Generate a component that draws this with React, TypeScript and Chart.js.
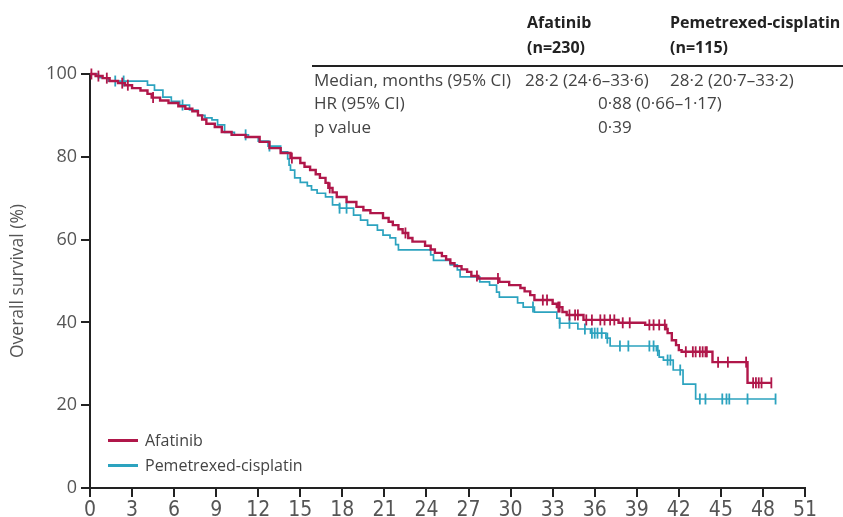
import React, { useEffect, useRef } from "react";
import { Chart, registerables } from "chart.js";

Chart.register(...registerables);

// Kaplan–Meier overall survival, months vs % surviving
const afatinibEventMonths = [
  0.4, 0.9, 1.4, 2.0, 2.5, 3.0, 3.6, 4.1, 4.4, 5.0, 5.6, 6.3, 6.8, 7.3, 7.7, 8.0, 8.3, 8.9, 9.4,
  10.1, 11.1, 12.1, 12.8, 13.6, 14.3, 15.0, 15.3, 15.7, 16.1, 16.4, 16.8, 17.0, 17.3, 17.6, 18.3,
  19.0, 19.5, 20.0, 20.9, 21.3, 21.6, 22.0, 22.3, 22.7, 23.0, 23.9, 24.3, 24.6, 25.1, 25.4, 25.7,
  26.0, 26.5, 26.9, 27.2, 27.7, 29.2, 29.9, 30.7, 31.0, 31.4, 31.7, 33.0, 33.3, 33.7, 34.0, 35.2,
  37.7, 39.6, 41.1, 41.2, 41.5, 41.8, 42.0, 42.2, 44.4, 46.9,
];
const afatinibSurvival = [
  99.5, 99.0, 98.3, 97.8, 97.3, 96.6, 96.0, 95.2, 94.3, 93.6, 93.0, 92.2, 91.6, 91.0, 90.0, 89.0, 88.0, 87.2, 86.0,
  85.3, 84.8, 83.6, 82.1, 80.9, 79.7, 78.5, 77.6, 76.8, 75.8, 74.9, 73.7, 72.5, 71.4, 70.3, 69.1,
  67.9, 67.1, 66.4, 65.2, 64.3, 63.5, 62.5, 61.6, 60.4, 59.5, 58.5, 57.6, 56.8, 56.0, 55.2, 54.3,
  53.6, 52.8, 52.2, 51.2, 50.6, 49.8, 49.0, 48.3, 47.5, 46.6, 45.4, 44.5, 43.7, 42.5, 41.8, 40.6,
  39.9, 39.4, 38.4, 37.4, 35.7, 34.5, 33.3, 32.9, 30.4, 25.4,
];
const afatinibCensorMonths = [
  0.1, 0.6, 1.2, 2.3, 2.7, 4.5, 14.4, 17.1, 22.5, 27.6, 29.1, 32.3, 32.6, 33.4, 33.5, 34.2, 34.6,
  34.8, 35.4, 35.8, 36.4, 36.7, 37.1, 37.4, 38.0, 38.5, 39.9, 40.2, 40.6, 41.0, 42.5, 43.0, 43.2,
  43.5, 43.7, 43.9, 44.0, 44.8, 45.5, 46.8, 47.3, 47.5, 47.7, 47.9, 48.6,
];
const afatinibLastMonth = 48.6;

const pemetrexedEventMonths = [
  0.6, 1.3, 4.1, 4.6, 5.2, 5.8, 6.4, 7.1, 7.7, 8.2, 8.7, 9.1, 9.6, 10.3, 11.3, 12.0, 12.7, 13.6,
  14.1, 14.2, 14.3, 14.6, 15.0, 15.5, 15.8, 16.2, 16.8, 17.3, 17.8, 18.8, 19.3, 19.8, 20.5, 20.9,
  21.4, 21.8, 22.0, 24.3, 24.5, 25.7, 26.2, 26.4, 27.8, 28.5, 29.0, 29.2, 30.5, 30.9, 31.7, 33.3,
  33.5, 34.8, 35.7, 36.8, 37.1, 40.4, 40.6, 40.9, 41.6, 42.3, 43.2,
];
const pemetrexedSurvival = [
  99.1, 98.3, 97.3, 96.1, 94.4, 93.4, 92.5, 91.3, 90.0, 89.4, 88.9, 87.7, 85.9, 85.3, 84.8, 83.8, 82.6, 81.2,
  79.5, 78.0, 76.8, 74.9, 73.8, 73.0, 72.0, 71.2, 70.3, 68.4, 67.6, 65.9, 64.7, 63.5, 62.3, 61.1,
  60.4, 58.8, 57.5, 56.3, 55.0, 53.9, 52.7, 51.0, 49.8, 49.0, 47.3, 46.1, 44.7, 43.7, 42.5, 41.0,
  39.8, 38.4, 37.4, 36.2, 34.3, 33.2, 31.6, 30.9, 28.5, 25.1, 21.5,
];
const pemetrexedCensorMonths = [
  1.8, 2.4, 6.6, 11.1, 12.8, 17.8, 18.3, 31.6, 33.5, 34.2, 35.3, 35.8, 36.0, 36.2, 36.5, 36.9,
  37.8, 38.4, 39.9, 40.2, 40.5, 41.2, 41.4, 42.1, 43.5, 43.9, 45.1, 45.4, 45.6, 46.9, 48.9,
];
const pemetrexedLastMonth = 48.9;

const seriesLabels = ["Afatinib", "Pemetrexed-cisplatin"];
const seriesCounts = ["(n=230)", "(n=115)"];
const medianRow = ["Median, months (95% CI)", "28·2 (24·6–33·6)", "28·2 (20·7–33·2)"];
const hrRow = ["HR (95% CI)", "0·88 (0·66–1·17)"];
const pRow = ["p value", "0·39"];

const AFATINIB_COLOR = "#b0174a";
const PEMETREXED_COLOR = "#2ca3bf";
const FONT = "'Open Sans', 'Noto Sans', sans-serif";
const NARROW_FONT = "'Liberation Sans Narrow', 'DejaVu Sans Condensed', 'Open Sans', sans-serif";

type Pt = { x: number; y: number };

function stepPoints(months: number[], surv: number[], last: number): Pt[] {
  const pts: Pt[] = [{ x: 0, y: 100 }];
  let prev = 100;
  months.forEach((t, i) => {
    pts.push({ x: t, y: prev });
    pts.push({ x: t, y: surv[i] });
    prev = surv[i];
  });
  pts.push({ x: last, y: prev });
  return pts;
}

function survivalAt(months: number[], surv: number[], t: number): number {
  let s = 100;
  months.forEach((m, i) => {
    if (m <= t) s = surv[i];
  });
  return s;
}

function censorPoints(censor: number[], months: number[], surv: number[]): Pt[] {
  return censor.map((t) => ({ x: t, y: survivalAt(months, surv, t) }));
}

export default function App() {
  const canvasRef = useRef<HTMLCanvasElement | null>(null);

  useEffect(() => {
    if (!canvasRef.current) return;
    Chart.defaults.font.family = FONT;
    const censorStyle = {
      showLine: false,
      pointStyle: "line" as const,
      rotation: 90,
      pointRadius: 5.5,
      pointBorderWidth: 1.8,
      clip: false as const,
    };
    const chart = new Chart(canvasRef.current, {
      type: "scatter",
      data: {
        datasets: [
          {
            label: "Afatinib",
            data: stepPoints(afatinibEventMonths, afatinibSurvival, afatinibLastMonth),
            showLine: true,
            borderColor: AFATINIB_COLOR,
            borderWidth: 2.4,
            pointRadius: 0,
            clip: false,
            order: 0,
          },
          {
            label: "Afatinib censored",
            data: censorPoints(afatinibCensorMonths, afatinibEventMonths, afatinibSurvival),
            borderColor: AFATINIB_COLOR,
            backgroundColor: AFATINIB_COLOR,
            ...censorStyle,
            order: 1,
          },
          {
            label: "Pemetrexed-cisplatin",
            data: stepPoints(pemetrexedEventMonths, pemetrexedSurvival, pemetrexedLastMonth),
            showLine: true,
            borderColor: PEMETREXED_COLOR,
            borderWidth: 1.7,
            pointRadius: 0,
            clip: false,
            order: 2,
          },
          {
            label: "Pemetrexed-cisplatin censored",
            data: censorPoints(pemetrexedCensorMonths, pemetrexedEventMonths, pemetrexedSurvival),
            borderColor: PEMETREXED_COLOR,
            backgroundColor: PEMETREXED_COLOR,
            ...censorStyle,
            order: 3,
          },
        ],
      },
      options: {
        animation: false,
        responsive: true,
        maintainAspectRatio: false,
        events: [],
        layout: { padding: { top: 74, right: 38, left: 0, bottom: 0 } },
        plugins: { legend: { display: false }, tooltip: { enabled: false } },
        scales: {
          x: {
            type: "linear",
            min: 0,
            max: 51,
            ticks: {
              stepSize: 3,
              autoSkip: false,
              maxRotation: 0,
              color: "#555",
              padding: 1,
              font: { size: 21, family: NARROW_FONT },
            },
            grid: { drawOnChartArea: false, drawTicks: true, tickLength: 9, color: "#222", lineWidth: 2 },
            border: { display: true, color: "#222", width: 2 },
            afterFit: (s: any) => {
              s.height = 29;
            },
          },
          y: {
            type: "linear",
            min: 0,
            max: 100,
            ticks: { stepSize: 20, color: "#555", padding: 4, font: { size: 18 } },
            grid: { drawOnChartArea: false, drawTicks: true, tickLength: 9, color: "#222", lineWidth: 2 },
            border: { display: true, color: "#222", width: 2 },
            title: {
              display: true,
              text: "Overall survival (%)",
              color: "#555",
              font: { size: 17.5 },
              padding: { top: 8, bottom: 0 },
            },
            afterFit: (s: any) => {
              s.width = 90;
            },
          },
        },
      },
    });
    return () => chart.destroy();
  }, []);

  const text = (
    content: string,
    left: number,
    centerY: number,
    bold = false,
    color = "#444",
    size = 17
  ) => (
    <div
      key={content + left + centerY}
      style={{
        position: "absolute",
        left,
        top: centerY - 11,
        height: 22,
        lineHeight: "22px",
        fontFamily: FONT,
        fontSize: size,
        fontWeight: bold ? 700 : 400,
        color,
        whiteSpace: "nowrap",
      }}
    >
      {content}
    </div>
  );

  const legendRow = (label: string, color: string, y: number) => (
    <div key={label}>
      <div
        style={{
          position: "absolute",
          left: 108,
          top: y - 1.5,
          width: 30,
          height: 3,
          background: color,
        }}
      />
      {text(label, 145, y, false, "#444", 16)}
    </div>
  );

  return (
    <div
      style={{
        position: "fixed",
        left: 0,
        top: 0,
        width: 843,
        height: 517,
        overflow: "hidden",
        background: "#fff",
      }}
    >
      <canvas ref={canvasRef} style={{ position: "absolute", left: 0, top: 0 }} />
      {text(seriesLabels[0], 527, 22, true, "#222", 16)}
      {text(seriesCounts[0], 527, 47, true, "#222", 16)}
      {text(seriesLabels[1], 670, 22, true, "#222", 16)}
      {text(seriesCounts[1], 670, 47, true, "#222", 16)}
      <div
        style={{
          position: "absolute",
          left: 312,
          top: 65,
          width: 531,
          height: 2,
          background: "#222",
        }}
      />
      {text(medianRow[0], 314, 80)}
      {text(medianRow[1], 525, 80)}
      {text(medianRow[2], 670, 80)}
      {text(hrRow[0], 314, 103)}
      {text(hrRow[1], 598, 103)}
      {text(pRow[0], 314, 127)}
      {text(pRow[1], 598, 127)}
      {legendRow(seriesLabels[0], AFATINIB_COLOR, 440)}
      {legendRow(seriesLabels[1], PEMETREXED_COLOR, 465)}
    </div>
  );
}
